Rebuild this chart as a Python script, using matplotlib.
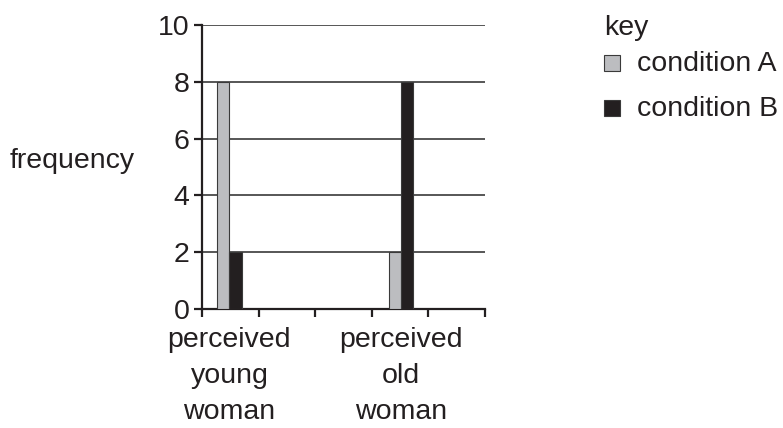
import matplotlib
matplotlib.use("Agg")
import matplotlib.pyplot as plt
from matplotlib.patches import Rectangle

plt.rcParams['font.family'] = ['Liberation Sans', 'DejaVu Sans']

categories = ["perceived\nyoung\nwoman", "perceived\nold\nwoman"]
series_names = ["condition A", "condition B"]
condition_a = [8, 2]
condition_b = [2, 8]
yticks = [0, 2, 4, 6, 8, 10]

colors = ["#bcbdc0", "#231f20"]
cat_pos = [0.485, 3.52]
bw = 0.215
FS = 20.5

fig = plt.figure(figsize=(7.83, 4.28), dpi=100)
W, H = 783, 428
ax = fig.add_axes([202 / W, 1 - 309 / H, (485 - 202) / W, (309 - 25) / H])

for i, vals in enumerate([condition_a, condition_b]):
    xs = [p + (i - 0.5) * bw for p in cat_pos]
    ax.bar(xs, vals, width=bw, color=colors[i], edgecolor="#3a3a3a",
           linewidth=0.8, zorder=3, label=series_names[i])

ax.set_xlim(0, 5)
ax.set_ylim(0, 10)
ax.set_yticks(yticks)
ax.set_yticklabels([str(v) for v in yticks], fontsize=FS, color="#231f20")
ax.set_xticks([0, 1, 2, 3, 4, 5])
ax.set_xticklabels([])
for y in yticks[1:]:
    ax.axhline(y, color="#3a3a3a", linewidth=1.2, zorder=1)

for s in ["top", "right"]:
    ax.spines[s].set_visible(False)
for s in ["left", "bottom"]:
    ax.spines[s].set_linewidth(1.6)
    ax.spines[s].set_color("#231f20")
ax.tick_params(axis="both", direction="out", length=6, width=1.6, color="#231f20")
ax.tick_params(axis="y", pad=3)

for p, lab in zip(cat_pos, categories):
    ax.text(p, -0.64, lab, transform=ax.transData, ha="center", va="top",
            fontsize=FS, color="#231f20", linespacing=1.5)

fig.text(10 / W, 1 - 161 / H, "frequency", ha="left", va="center",
         fontsize=FS, color="#231f20")

fig.text(604 / W, 1 - 35 / H, "key", ha="left", va="baseline", fontsize=FS,
         color="#231f20")
leg_base = [71, 116]
for i, name in enumerate(series_names):
    yb = leg_base[i]
    fig.add_artist(Rectangle((604 / W, 1 - yb / H), 16 / W, 16 / H,
                             transform=fig.transFigure, facecolor=colors[i],
                             edgecolor="#3a3a3a", linewidth=0.8))
    fig.text(637 / W, 1 - yb / H, name, ha="left", va="baseline", fontsize=FS,
             color="#231f20")

fig.savefig("out.png", dpi=100)
